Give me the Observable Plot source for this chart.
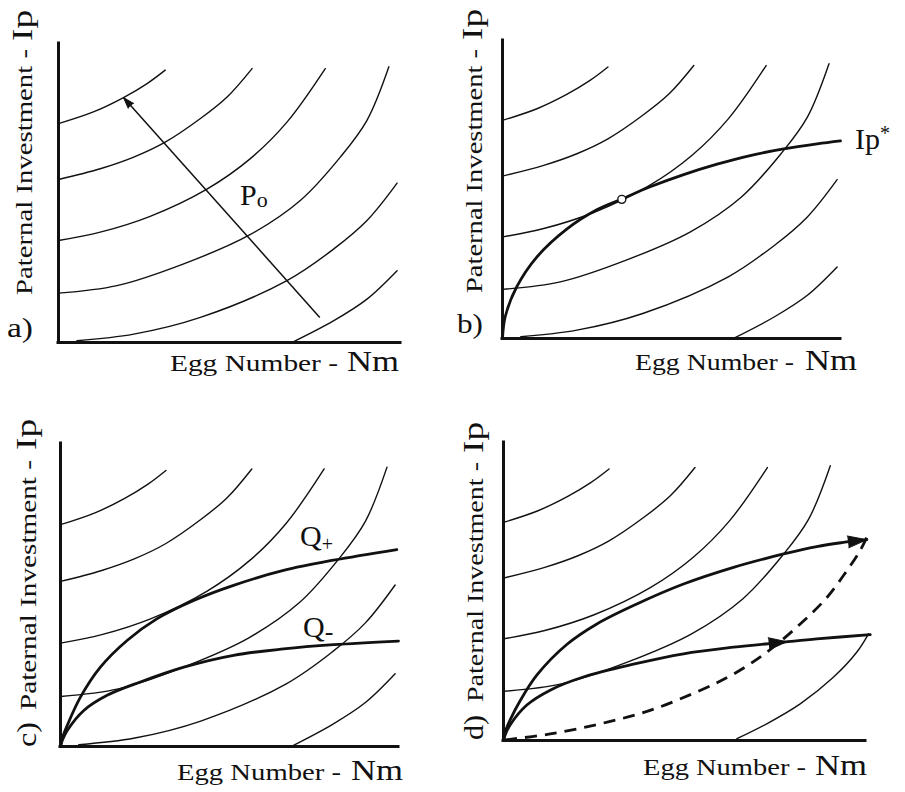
<!DOCTYPE html>
<html>
<head>
<meta charset="utf-8">
<script src="https://cdn.jsdelivr.net/npm/d3@7"></script>
<script src="https://cdn.jsdelivr.net/npm/@observablehq/plot@0.6"></script>
<style>
  html, body { margin: 0; padding: 0; background: #fff; }
  #chart { position: relative; width: 905px; height: 792px; overflow: hidden; background: #fff; }
  #chart svg { position: absolute; }
</style>
</head>
<body>
<div id="chart"></div>
<script>
// ---------------- DATA (normalised units: axis length = 100) ----------------
const panelLetters = ["a)", "b)", "c)", "d)"];
const xLabelText = "Egg Number -";
const xLabelSymbol = "Nm";
const yLabelText = "Paternal Investment -";
const yLabelSymbol = "Ip";

// iso-fitness curves (thin)
const iso1 = [[0,73.2],[10.2,77.1],[19.0,81.9],[25.9,86.6],[31.2,91.1]];
const iso2 = [[0,54.5],[12.2,58.1],[22.0,62.0],[31.2,67.0],[41.5,74.9],[49.3,82.1],[56.6,91.6]];
const iso3 = [[0,34.1],[12.2,36.9],[26.8,42.2],[43.4,51.3],[56.1,61.5],[66.8,73.7],[78.0,91.6]];
const iso4 = [[0,16.5],[17.1,19.0],[36.6,26.3],[55.6,35.8],[70.7,47.5],[82.4,62.0],[90.2,74.3],[96.6,92.2]];
const iso5 = [[5.4,0.6],[22.0,2.8],[41.5,8.4],[66.8,20.7],[80.5,31.3],[90.2,40.8],[99.0,53.3]];
const iso6 = [[68.8,0.3],[80.5,7.3],[90.2,14.5],[99.0,24.0]];
const iso6d = [[69.0,0.6],[77.8,5.6],[87.7,12.3],[97.5,21.2],[104.4,29.6],[107.9,35.8]];

// panel a: direction of increasing fitness
const poArrow = [[76.4,8.4],[19.0,81.9]];

// panel b: optimal paternal investment curve and tangent point
const ipStar = [[0,0],[0.8,7.3],[4.2,17.3],[10.2,27.4],[19.1,36.8],[27.9,43.2],[35.3,46.8],[43.7,50.9],[53.6,55.0],[63.5,58.5],[73.3,61.4],[83.2,63.6],[93.1,65.3],[100,66.3]];
const ipStarPoint = [[35.3,46.7]];

// panel c: high and low quality curves
const qPlus = [[0,0],[0.6,3.0],[2.0,7.0],[5.9,16.3],[11.8,26.2],[19.7,35.0],[28.6,42.2],[39.4,48.2],[51.2,53.2],[66.0,58.1],[80.8,61.5],[99.5,65.0]];
const qMinus = [[0,0],[0.6,2.2],[2.0,5.3],[6.9,11.9],[13.8,16.9],[23.6,21.3],[36.5,26.2],[51.2,30.1],[66.0,32.2],[80.8,33.6],[100,34.8]];

// panel d: curves with arrows and the dashed trajectory
const qPlusD = [[0,0],[0.6,3.2],[2.0,7.0],[5.0,13.5],[9.9,22.0],[18.7,32.2],[27.6,39.1],[39.4,45.8],[53.2,52.5],[68.0,58.1],[82.8,62.6],[92.6,65.1],[100,66.4],[107.4,67.4]];
const qMinusD = [[0,0],[0.6,2.2],[2.0,5.3],[6.9,11.9],[13.8,16.9],[23.6,21.3],[38.4,25.6],[53.2,29.1],[68.0,31.3],[82.8,33.0],[92.6,34.1],[108.4,35.5]];
const qPlusHead = [[100,66.4],[107.4,67.4]];
const qMinusHead = [[68.0,31.3],[83.7,33.1]];
const dashedPath = [[0.5,0.2],[13.8,2.2],[28.6,5.6],[43.3,10.1],[58.1,16.8],[68.0,22.3],[77.8,29.6],[87.7,39.1],[95.6,48.0],[101.5,57.0],[105.4,63.7],[107.4,68.2]];

// ---------------- DRAWING ----------------
const FONT = "'Liberation Serif', 'Times New Roman', serif";
const chart = document.getElementById("chart");
const X = p => p[0], Y = p => p[1];

function thin(data) {
  return Plot.line(data, {x: X, y: Y, stroke: "#111", strokeWidth: 1.4, curve: "catmull-rom"});
}
function thick(data, extra = {}) {
  return Plot.line(data, {x: X, y: Y, stroke: "#111", strokeWidth: 2.8, curve: "catmull-rom", strokeLinecap: "round", ...extra});
}

function panel(L, marksFn, labels) {
  const w = L.w, h = L.h;
  const pxX = (L.right - L.left) / L.xmax, pxY = (L.bottom - L.top) / 100;
  const angle = seg => {
    const dx = (seg[1][0] - seg[0][0]) * pxX, dy = -(seg[1][1] - seg[0][1]) * pxY;
    return Math.atan2(dx, -dy) * 180 / Math.PI;
  };
  const head = (seg, length, r) => Plot.vector([seg[1]], {
    x: X, y: Y, anchor: "end", shape: "spike", length, r, rotate: angle(seg),
    fill: "#111", stroke: "#111", strokeWidth: 1
  });
  const marks = [
    ...marksFn(head),
    Plot.ruleX([0], {stroke: "#111", strokeWidth: 3, strokeLinecap: "square"}),
    Plot.ruleY([0], {stroke: "#111", strokeWidth: 3, strokeLinecap: "square"})
  ];
  const svg = Plot.plot({
    width: w, height: h,
    marginLeft: L.left - L.qx, marginRight: (L.qx + w) - L.right,
    marginTop: L.top - L.qy, marginBottom: (L.qy + h) - L.bottom,
    x: {domain: [0, L.xmax], axis: null},
    y: {domain: [0, 100], axis: null},
    style: {background: "transparent", overflow: "visible"},
    marks
  });
  svg.style.left = L.qx + "px";
  svg.style.top = L.qy + "px";
  chart.appendChild(svg);
  const s = d3.select(svg);
  for (const lab of labels) {
    const lx = lab.x - L.qx, ly = lab.y - L.qy;
    const t = s.append("text")
      .attr("x", lx).attr("y", ly)
      .attr("text-anchor", "start")
      .attr("font-family", FONT).attr("fill", "#111")
      .attr("font-size", lab.size);
    if (lab.rotate) t.attr("transform", `rotate(-90, ${lx}, ${ly})`);
    if (lab.len) t.attr("textLength", lab.len).attr("lengthAdjust", "spacingAndGlyphs");
    if (lab.parts) {
      for (const p of lab.parts) {
        const sp = t.append("tspan").text(p.text);
        if (p.size) sp.attr("font-size", p.size);
        if (p.dy) sp.attr("dy", p.dy);
        if (p.dx) sp.attr("dx", p.dx);
      }
    } else t.text(lab.text);
  }
}

function axisLabels(o) {
  const arr = [];
  if (o.letterRot) arr.push({text: o.letter, x: o.yx, y: o.letterY, rotate: true, size: 28, len: 25});
  else arr.push({text: o.letter, x: o.letterX, y: o.letterY, size: 28, len: 26});
  arr.push({text: yLabelText, x: o.yx, y: o.yStart, rotate: true, size: 24, len: o.yLen});
  arr.push({text: yLabelSymbol, x: o.yx, y: o.ipY, rotate: true, size: 30, len: 31});
  arr.push({text: xLabelText, x: o.xStart, y: o.xy, size: 24, len: o.xLen});
  arr.push({text: xLabelSymbol, x: o.nmX, y: o.xy, size: 30, len: 52});
  return arr;
}

// panel a
panel({qx: 0, qy: 0, w: 452, h: 396, left: 58, right: 400, top: 43, bottom: 342, xmax: 100},
  head => [
    thin(iso1), thin(iso2), thin(iso3), thin(iso4), thin(iso5), thin(iso6),
    Plot.link([poArrow], {x1: d => d[0][0], y1: d => d[0][1], x2: d => d[1][0], y2: d => d[1][1], stroke: "#111", strokeWidth: 1.5}),
    head(poArrow, 11, 3.5)
  ],
  [...axisLabels({letter: panelLetters[0], letterX: 7, letterY: 337, yx: 32, yStart: 295, yLen: 246, ipY: 41,
                  xStart: 170, xy: 371, xLen: 168, nmX: 347}),
   {x: 240, y: 205, size: 30, parts: [{text: "P"}, {text: "o", size: 22, dy: 2}]}]
);

// panel b
panel({qx: 452, qy: 0, w: 453, h: 396, left: 502, right: 840, top: 40, bottom: 338, xmax: 100},
  head => [
    thin(iso1), thin(iso2), thin(iso3), thin(iso4), thin(iso5), thin(iso6),
    thick(ipStar),
    Plot.dot(ipStarPoint, {x: X, y: Y, r: 4, fill: "white", stroke: "#111", strokeWidth: 1.4})
  ],
  [...axisLabels({letter: panelLetters[1], letterX: 457, letterY: 333, yx: 482, yStart: 293, yLen: 244, ipY: 40,
                  xStart: 635, xy: 370, xLen: 159, nmX: 805}),
   {x: 855, y: 149, size: 30, parts: [{text: "Ip"}, {text: "*", size: 20, dy: -9}]}]
);

// panel c
panel({qx: 0, qy: 396, w: 452, h: 396, left: 60, right: 398, top: 443, bottom: 746, xmax: 100},
  head => [
    thin(iso1), thin(iso2), thin(iso3), thin(iso4), thin(iso5), thin(iso6),
    thick(qPlus), thick(qMinus)
  ],
  [...axisLabels({letter: panelLetters[2], letterRot: true, letterY: 747, yx: 36, yStart: 710, yLen: 250, ipY: 450,
                  xStart: 177, xy: 780, xLen: 164, nmX: 351}),
   {x: 300, y: 546, size: 30, parts: [{text: "Q"}, {text: "+", size: 20, dy: 5}]},
   {x: 303, y: 637, size: 30, parts: [{text: "Q"}, {text: "-", size: 26, dy: 3}]}]
);

// panel d (x axis runs a little past 100)
panel({qx: 452, qy: 396, w: 453, h: 396, left: 503, right: 865, top: 442, bottom: 740, xmax: 107},
  head => [
    thin(iso1), thin(iso2), thin(iso3), thin(iso4), thin(iso6d),
    thick(qPlusD), thick(qMinusD),
    thick(dashedPath, {strokeDasharray: "12,8", strokeLinecap: "butt"}),
    head(qPlusHead, 19, 6),
    head(qMinusHead, 18, 6)
  ],
  axisLabels({letter: panelLetters[3], letterRot: true, letterY: 740, yx: 483, yStart: 702, yLen: 240, ipY: 453,
              xStart: 643, xy: 775, xLen: 163, nmX: 815})
);
</script>
</body>
</html>
